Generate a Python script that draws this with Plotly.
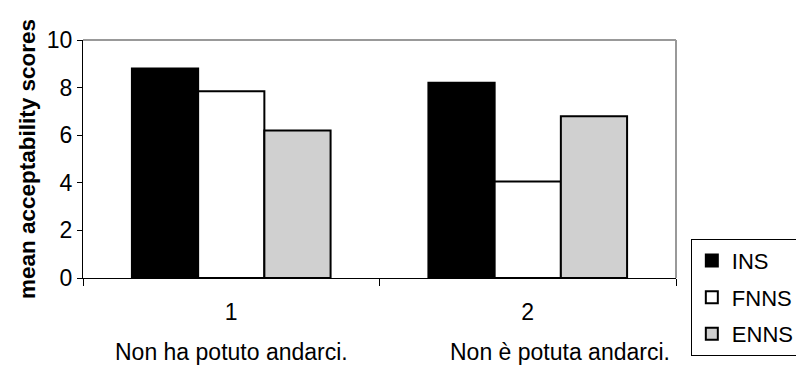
import plotly.graph_objects as go

categories = ["1", "2"]
sentences = ["Non ha potuto andarci.", "Non è potuta andarci."]
series_names = ["INS", "FNNS", "ENNS"]
ins = [8.8, 8.2]
fnns = [7.85, 4.05]
enns = [6.2, 6.8]
colors = ["#000000", "#ffffff", "#d0d0d0"]
yticks = [0, 2, 4, 6, 8, 10]

FONT = "Liberation Sans, Arial, sans-serif"
FS = 23

fig = go.Figure()
for name, vals, col in zip(series_names, [ins, fnns, enns], colors):
    fig.add_trace(go.Bar(
        x=categories, y=vals, name=name, legendgroup=name,
        marker=dict(color=col, line=dict(color="#000000", width=2)),
    ))

for i, s in enumerate(sentences):
    fig.add_annotation(x=[0, 1.11][i], xref="x", y=-0.31, yref="paper",
                       text=s, showarrow=False, yanchor="middle",
                       font=dict(family=FONT, size=FS, color="#000"))

# gray top and right borders
fig.add_shape(type="line", xref="paper", yref="paper", x0=0, x1=1, y0=1, y1=1,
              line=dict(color="#999999", width=2))
fig.add_shape(type="line", xref="paper", yref="paper", x0=1, x1=1, y0=0, y1=1,
              line=dict(color="#999999", width=2))

# page body has an 8px margin, so the figure is sized to fit the window
fig.update_layout(
    width=796, height=359,
    margin=dict(l=75, r=128, t=32, b=89, autoexpand=False),
    paper_bgcolor="white", plot_bgcolor="white",
    barmode="group", bargap=0.33, bargroupgap=0,
    font=dict(family=FONT, size=FS, color="#000"),
    showlegend=True,
    legend=dict(x=1.025, xanchor="left", y=0.165, yanchor="top",
                bgcolor="white", bordercolor="#000", borderwidth=1,
                font=dict(family=FONT, size=22), tracegroupgap=5,
                itemwidth=30),
    xaxis=dict(showline=True, linecolor="#000", linewidth=1,
               ticks="outside", ticklen=7, tickcolor="#000",
               tickson="boundaries", showgrid=False, ticklabelstandoff=13,
               tickfont=dict(family=FONT, size=FS)),
    yaxis=dict(range=[0, 10], tickvals=yticks, showline=True, linecolor="#000",
               linewidth=1, ticks="outside", ticklen=5, tickcolor="#000",
               showgrid=False, zeroline=False,
               tickfont=dict(family=FONT, size=FS),
               title=dict(text="<b>mean acceptability scores</b>",
                          font=dict(family=FONT, size=22.5), standoff=4)),
)

fig.write_html("out.html")
